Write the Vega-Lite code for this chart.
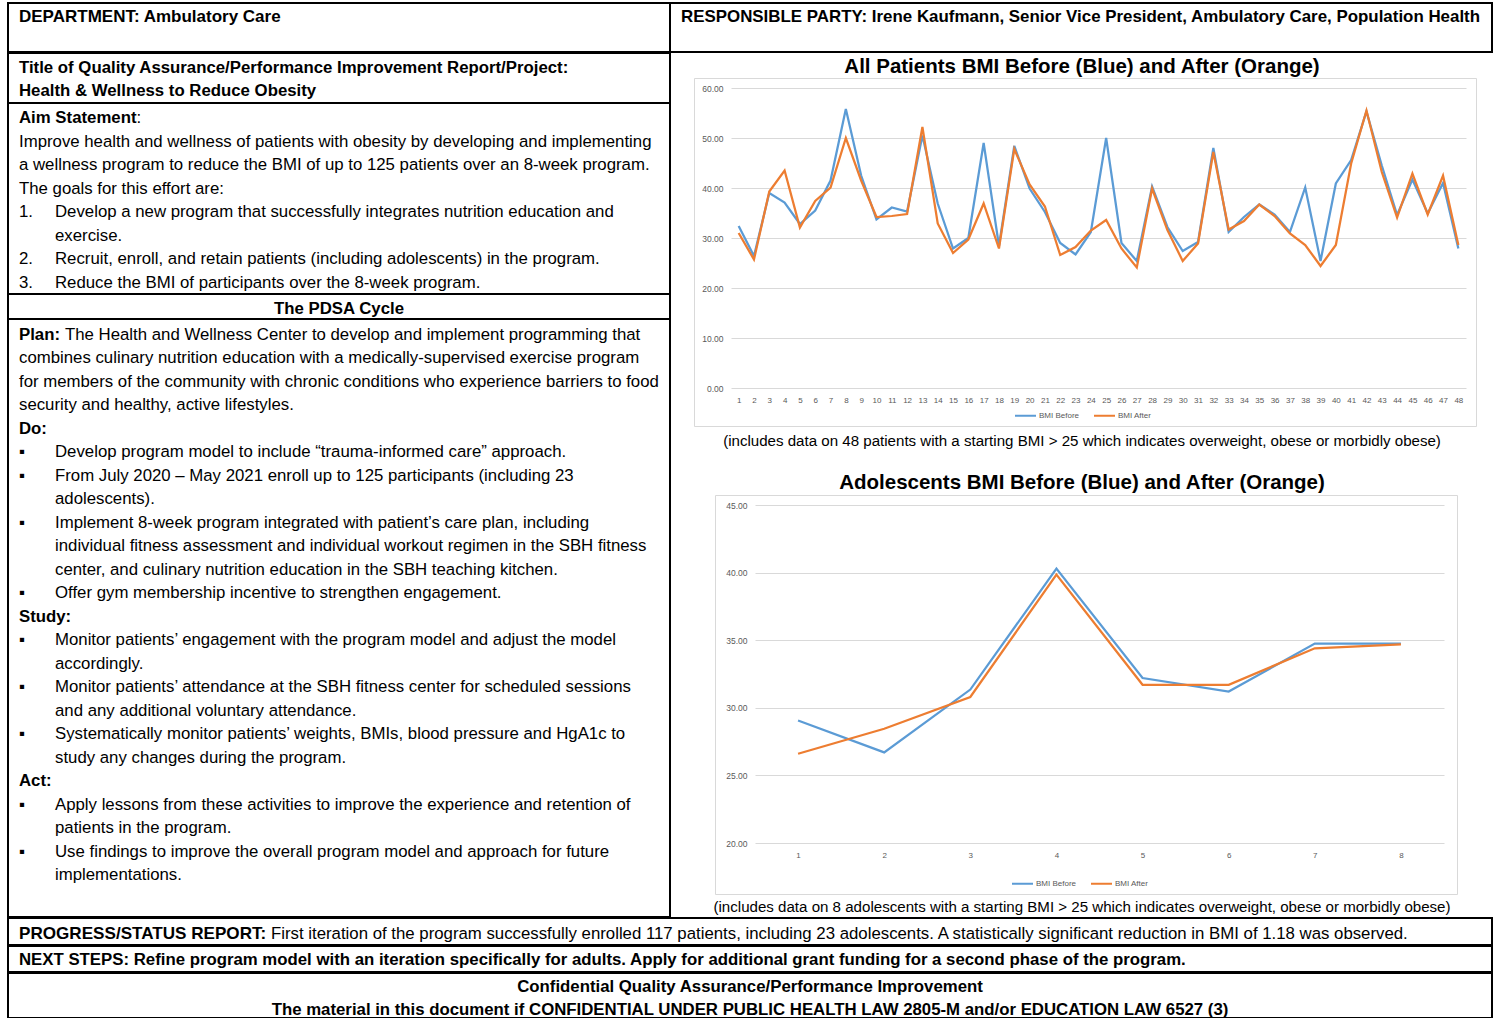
{
  "$schema": "https://vega.github.io/schema/vega-lite/v6.json",
  "padding": {"left": 7, "top": 2, "right": 0, "bottom": 0},
  "background": "white",
  "config": {
    "view": {"stroke": null},
    "text": {"font": "Liberation Sans", "fontSize": 16.8, "fill": "black"},
    "axis": {"labelFont": "Liberation Sans", "titleFont": "Liberation Sans"},
    "legend": {"labelFont": "Liberation Sans"},
    "title": {"font": "Liberation Sans"}
  },
  "datasets": {
    "doc": [
      {"cell": "dept", "line": 0, "indent": 0, "bold": true, "text": "DEPARTMENT: Ambulatory Care"},
      {"cell": "resp", "line": 0, "indent": 0, "bold": true, "text": "RESPONSIBLE PARTY:  Irene Kaufmann, Senior Vice President, Ambulatory Care, Population Health"},
      {"cell": "title", "line": 0, "indent": 0, "bold": true, "text": "Title of Quality Assurance/Performance Improvement Report/Project:"},
      {"cell": "title", "line": 1, "indent": 0, "bold": true, "text": "Health & Wellness to Reduce Obesity"},
      {"cell": "aim", "line": 0, "indent": 0, "bold": true, "text": "Aim Statement"},
      {"cell": "aim", "line": 0, "indent": 2, "bold": false, "text": ":"},
      {"cell": "aim", "line": 1, "indent": 0, "bold": false, "text": "Improve health and wellness of patients with obesity by developing and implementing"},
      {"cell": "aim", "line": 2, "indent": 0, "bold": false, "text": "a wellness program to reduce the BMI of up to 125 patients over an 8-week program."},
      {"cell": "aim", "line": 3, "indent": 0, "bold": false, "text": "The goals for this effort are:"},
      {"cell": "aim", "line": 4, "indent": 1, "bold": false, "marker": "1.", "text": "Develop a new program that successfully integrates nutrition education and"},
      {"cell": "aim", "line": 5, "indent": 1, "bold": false, "text": "exercise."},
      {"cell": "aim", "line": 6, "indent": 1, "bold": false, "marker": "2.", "text": "Recruit, enroll, and retain patients (including adolescents) in the program."},
      {"cell": "aim", "line": 7, "indent": 1, "bold": false, "marker": "3.", "text": "Reduce the BMI of participants over the 8-week program."},
      {"cell": "pdsa", "line": 0, "indent": 0, "bold": true, "text": "The PDSA Cycle"},
      {"cell": "plan", "line": 0, "indent": 0, "bold": true, "text": "Plan:"},
      {"cell": "plan", "line": 0, "indent": 2, "bold": false, "text": "The Health and Wellness Center to develop and implement programming that"},
      {"cell": "plan", "line": 1, "indent": 0, "bold": false, "text": "combines culinary nutrition education with a medically-supervised exercise program"},
      {"cell": "plan", "line": 2, "indent": 0, "bold": false, "text": "for members of the community with chronic conditions who experience barriers to food"},
      {"cell": "plan", "line": 3, "indent": 0, "bold": false, "text": "security and healthy, active lifestyles."},
      {"cell": "plan", "line": 4, "indent": 0, "bold": true, "text": "Do:"},
      {"cell": "plan", "line": 5, "indent": 1, "bold": false, "marker": "▪", "text": "Develop program model to include “trauma-informed care” approach."},
      {"cell": "plan", "line": 6, "indent": 1, "bold": false, "marker": "▪", "text": "From July 2020 – May 2021 enroll up to 125 participants (including 23"},
      {"cell": "plan", "line": 7, "indent": 1, "bold": false, "text": "adolescents)."},
      {"cell": "plan", "line": 8, "indent": 1, "bold": false, "marker": "▪", "text": "Implement 8-week program integrated with patient’s care plan, including"},
      {"cell": "plan", "line": 9, "indent": 1, "bold": false, "text": "individual fitness assessment and individual workout regimen in the SBH fitness"},
      {"cell": "plan", "line": 10, "indent": 1, "bold": false, "text": "center, and culinary nutrition education in the SBH teaching kitchen."},
      {"cell": "plan", "line": 11, "indent": 1, "bold": false, "marker": "▪", "text": "Offer gym membership incentive to strengthen engagement."},
      {"cell": "plan", "line": 12, "indent": 0, "bold": true, "text": "Study:"},
      {"cell": "plan", "line": 13, "indent": 1, "bold": false, "marker": "▪", "text": "Monitor patients’ engagement with the program model and adjust the model"},
      {"cell": "plan", "line": 14, "indent": 1, "bold": false, "text": "accordingly."},
      {"cell": "plan", "line": 15, "indent": 1, "bold": false, "marker": "▪", "text": "Monitor patients’ attendance at the SBH fitness center for scheduled sessions"},
      {"cell": "plan", "line": 16, "indent": 1, "bold": false, "text": "and any additional voluntary attendance."},
      {"cell": "plan", "line": 17, "indent": 1, "bold": false, "marker": "▪", "text": "Systematically monitor patients’ weights, BMIs, blood pressure and HgA1c to"},
      {"cell": "plan", "line": 18, "indent": 1, "bold": false, "text": "study any changes during the program."},
      {"cell": "plan", "line": 19, "indent": 0, "bold": true, "text": "Act:"},
      {"cell": "plan", "line": 20, "indent": 1, "bold": false, "marker": "▪", "text": "Apply lessons from these activities to improve the experience and retention of"},
      {"cell": "plan", "line": 21, "indent": 1, "bold": false, "text": "patients in the program."},
      {"cell": "plan", "line": 22, "indent": 1, "bold": false, "marker": "▪", "text": "Use findings to improve the overall program model and approach for future"},
      {"cell": "plan", "line": 23, "indent": 1, "bold": false, "text": "implementations."},
      {"cell": "ttl1", "line": 0, "indent": 0, "bold": true, "text": "All Patients BMI Before (Blue) and After (Orange)"},
      {"cell": "mid", "line": 0, "indent": 0, "bold": false, "text": "(includes data on 48 patients with a starting BMI > 25 which indicates overweight, obese or morbidly obese)"},
      {"cell": "mid", "line": 1, "indent": 0, "bold": true, "text": "Adolescents BMI Before (Blue) and After (Orange)"},
      {"cell": "cap2", "line": 0, "indent": 0, "bold": false, "text": "(includes data on 8 adolescents with a starting BMI > 25 which indicates overweight, obese or morbidly obese)"},
      {"cell": "prog", "line": 0, "indent": 0, "bold": true, "text": "PROGRESS/STATUS REPORT:"},
      {"cell": "prog", "line": 0, "indent": 1, "bold": false, "text": "First iteration of the program successfully enrolled 117 patients, including 23 adolescents. A statistically significant reduction in BMI of 1.18 was observed."},
      {"cell": "next", "line": 0, "indent": 0, "bold": true, "text": "NEXT STEPS: Refine program model with an iteration specifically for adults. Apply for additional grant funding for a second phase of the program."},
      {"cell": "conf", "line": 0, "indent": 0, "bold": true, "text": "Confidential Quality Assurance/Performance Improvement"},
      {"cell": "conf", "line": 1, "indent": 0, "bold": true, "text": "The material in this document if CONFIDENTIAL UNDER PUBLIC HEALTH LAW 2805-M and/or EDUCATION LAW 6527 (3)"}
    ],
    "all": [
      {"p": 1, "BMI Before": 32.4, "BMI After": 31.0},
      {"p": 2, "BMI Before": 26.4, "BMI After": 25.7},
      {"p": 3, "BMI Before": 39.0, "BMI After": 39.3},
      {"p": 4, "BMI Before": 37.1, "BMI After": 43.5},
      {"p": 5, "BMI Before": 32.8, "BMI After": 32.1},
      {"p": 6, "BMI Before": 35.5, "BMI After": 37.4},
      {"p": 7, "BMI Before": 41.5, "BMI After": 40.1},
      {"p": 8, "BMI Before": 55.8, "BMI After": 50.0},
      {"p": 9, "BMI Before": 42.5, "BMI After": 41.5},
      {"p": 10, "BMI Before": 33.7, "BMI After": 34.2},
      {"p": 11, "BMI Before": 36.1, "BMI After": 34.4},
      {"p": 12, "BMI Before": 35.3, "BMI After": 34.8},
      {"p": 13, "BMI Before": 50.5, "BMI After": 52.2},
      {"p": 14, "BMI Before": 36.9, "BMI After": 32.9},
      {"p": 15, "BMI Before": 27.9, "BMI After": 27.0},
      {"p": 16, "BMI Before": 30.0, "BMI After": 29.7},
      {"p": 17, "BMI Before": 49.0, "BMI After": 36.9},
      {"p": 18, "BMI Before": 28.4, "BMI After": 27.9},
      {"p": 19, "BMI Before": 48.4, "BMI After": 47.8},
      {"p": 20, "BMI Before": 39.9, "BMI After": 40.7},
      {"p": 21, "BMI Before": 35.2, "BMI After": 36.3},
      {"p": 22, "BMI Before": 29.0, "BMI After": 26.6},
      {"p": 23, "BMI Before": 26.7, "BMI After": 28.2},
      {"p": 24, "BMI Before": 31.2, "BMI After": 31.5},
      {"p": 25, "BMI Before": 50.0, "BMI After": 33.6},
      {"p": 26, "BMI Before": 29.0, "BMI After": 27.9},
      {"p": 27, "BMI Before": 25.4, "BMI After": 24.1},
      {"p": 28, "BMI Before": 40.3, "BMI After": 39.9},
      {"p": 29, "BMI Before": 32.2, "BMI After": 31.6},
      {"p": 30, "BMI Before": 27.4, "BMI After": 25.4},
      {"p": 31, "BMI Before": 29.2, "BMI After": 28.9},
      {"p": 32, "BMI Before": 48.0, "BMI After": 47.2},
      {"p": 33, "BMI Before": 31.2, "BMI After": 31.7},
      {"p": 34, "BMI Before": 34.2, "BMI After": 33.4},
      {"p": 35, "BMI Before": 36.7, "BMI After": 36.7},
      {"p": 36, "BMI Before": 34.7, "BMI After": 34.4},
      {"p": 37, "BMI Before": 31.2, "BMI After": 30.9},
      {"p": 38, "BMI Before": 40.1, "BMI After": 28.6},
      {"p": 39, "BMI Before": 25.4, "BMI After": 24.4},
      {"p": 40, "BMI Before": 40.9, "BMI After": 28.6},
      {"p": 41, "BMI Before": 45.6, "BMI After": 44.9},
      {"p": 42, "BMI Before": 55.3, "BMI After": 55.5},
      {"p": 43, "BMI Before": 44.5, "BMI After": 43.2},
      {"p": 44, "BMI Before": 34.6, "BMI After": 34.1},
      {"p": 45, "BMI Before": 41.7, "BMI After": 42.9},
      {"p": 46, "BMI Before": 34.9, "BMI After": 34.7},
      {"p": 47, "BMI Before": 41.0, "BMI After": 42.5},
      {"p": 48, "BMI Before": 27.9, "BMI After": 28.6}
    ],
    "teen": [
      {"p": 1, "BMI Before": 29.06, "BMI After": 26.6},
      {"p": 2, "BMI Before": 26.7, "BMI After": 28.45},
      {"p": 3, "BMI Before": 31.35, "BMI After": 30.8},
      {"p": 4, "BMI Before": 40.3, "BMI After": 39.85},
      {"p": 5, "BMI Before": 32.2, "BMI After": 31.7},
      {"p": 6, "BMI Before": 31.2, "BMI After": 31.7},
      {"p": 7, "BMI Before": 34.75, "BMI After": 34.4},
      {"p": 8, "BMI Before": 34.75, "BMI After": 34.7}
    ]
  },
  "spacing": -3,
  "bounds": "full",
  "resolve": {"scale": {"color": "independent"}, "legend": {"color": "independent"}},
  "vconcat": [
    {
      "spacing": 0,
      "bounds": "flush",
      "hconcat": [
        {
          "width": 662, "height": 49,
          "view": {"stroke": "black", "strokeWidth": 2},
          "data": {"name": "doc"},
          "transform": [{"filter": "datum.cell === 'dept'"}],
          "mark": {"type": "text", "align": "left", "baseline": "middle", "fontWeight": "bold", "fontSize": 17},
          "encoding": {
            "x": {"field": "indent", "type": "quantitative", "scale": {"domain": [0, 1], "range": [11, 47]}, "axis": null},
            "y": {"field": "line", "type": "quantitative", "scale": {"domain": [0, 1], "range": [14, 37.5]}, "axis": null},
            "text": {"field": "text"}
          }
        },
        {
          "width": 822, "height": 49,
          "view": {"stroke": "black", "strokeWidth": 2},
          "data": {"name": "doc"},
          "transform": [{"filter": "datum.cell === 'resp'"}],
          "mark": {"type": "text", "align": "left", "baseline": "middle", "fontWeight": "bold", "fontSize": 16.9},
          "encoding": {
            "x": {"field": "indent", "type": "quantitative", "scale": {"domain": [0, 1], "range": [11, 47]}, "axis": null},
            "y": {"field": "line", "type": "quantitative", "scale": {"domain": [0, 1], "range": [14, 37.5]}, "axis": null},
            "text": {"field": "text"}
          }
        }
      ]
    },
    {
      "spacing": -1,
      "bounds": "full",
      "resolve": {"scale": {"color": "independent"}, "legend": {"color": "independent"}},
      "hconcat": [
        {
          "spacing": 0,
          "bounds": "flush",
          "vconcat": [
            {
              "width": 662, "height": 50,
              "view": {"stroke": "black", "strokeWidth": 2},
              "data": {"name": "doc"},
              "transform": [{"filter": "datum.cell === 'title'"}],
              "mark": {"type": "text", "align": "left", "baseline": "middle", "fontWeight": "bold"},
              "encoding": {
                "x": {"field": "indent", "type": "quantitative", "scale": {"domain": [0, 1], "range": [11, 47]}, "axis": null},
                "y": {"field": "line", "type": "quantitative", "scale": {"domain": [0, 1], "range": [15, 38]}, "axis": null},
                "text": {"field": "text"}
              }
            },
            {
              "width": 662, "height": 191,
              "view": {"stroke": "black", "strokeWidth": 2},
              "data": {"name": "doc"},
              "transform": [{"filter": "datum.cell === 'aim'"}],
              "encoding": {
                "x": {"field": "indent", "type": "quantitative", "scale": {"domain": [0, 1, 2], "range": [11, 47, 128.6]}, "axis": null},
                "y": {"field": "line", "type": "quantitative", "scale": {"domain": [0, 1], "range": [15, 38.57]}, "axis": null},
                "text": {"field": "text"}
              },
              "layer": [
                {"transform": [{"filter": "datum.bold"}], "mark": {"type": "text", "align": "left", "baseline": "middle", "fontWeight": "bold"}},
                {"transform": [{"filter": "!datum.bold"}], "mark": {"type": "text", "align": "left", "baseline": "middle"}},
                {"transform": [{"filter": "datum.marker"}], "mark": {"type": "text", "align": "left", "baseline": "middle"}, "encoding": {"x": {"datum": 0, "type": "quantitative"}, "text": {"field": "marker"}}}
              ]
            },
            {
              "width": 662, "height": 25,
              "view": {"stroke": "black", "strokeWidth": 2},
              "data": {"name": "doc"},
              "transform": [{"filter": "datum.cell === 'pdsa'"}],
              "mark": {"type": "text", "align": "center", "baseline": "middle", "fontWeight": "bold", "dy": 2},
              "encoding": {"text": {"field": "text"}}
            },
            {
              "width": 662, "height": 598,
              "view": {"stroke": "black", "strokeWidth": 2},
              "data": {"name": "doc"},
              "transform": [{"filter": "datum.cell === 'plan'"}],
              "encoding": {
                "x": {"field": "indent", "type": "quantitative", "scale": {"domain": [0, 1, 2], "range": [11, 47, 57]}, "axis": null},
                "y": {"field": "line", "type": "quantitative", "scale": {"domain": [0, 1], "range": [16, 39.48]}, "axis": null},
                "text": {"field": "text"}
              },
              "layer": [
                {"transform": [{"filter": "datum.bold"}], "mark": {"type": "text", "align": "left", "baseline": "middle", "fontWeight": "bold"}},
                {"transform": [{"filter": "!datum.bold"}], "mark": {"type": "text", "align": "left", "baseline": "middle"}},
                {"transform": [{"filter": "datum.marker"}], "mark": {"type": "text", "align": "left", "baseline": "middle"}, "encoding": {"x": {"datum": 0, "type": "quantitative"}, "text": {"field": "marker"}}}
              ]
            }
          ]
        },
        {
          "spacing": 0,
          "bounds": "full",
          "resolve": {"scale": {"color": "independent"}, "legend": {"color": "independent"}},
          "vconcat": [
            {
              "width": 822, "height": 24,
              "data": {"name": "doc"},
              "transform": [{"filter": "datum.cell === 'ttl1'"}],
              "mark": {"type": "text", "align": "center", "baseline": "middle", "fontWeight": "bold", "fontSize": 20.5, "clip": true},
              "encoding": {
                "y": {"field": "line", "type": "quantitative", "scale": {"domain": [0, 1], "range": [14, 37]}, "axis": null},
                "text": {"field": "text"}
              }
            },
            {
              "spacing": 0,
              "bounds": "flush",
              "resolve": {"scale": {"color": "independent"}, "legend": {"color": "independent"}},
              "hconcat": [
                {
                  "width": 23, "height": 348,
                  "data": {"values": [{}]},
                  "mark": "text",
                  "encoding": {"text": {"value": ""}}
                },
                {
                  "width": 782, "height": 348,
                  "view": {"stroke": "#d9d9d9", "strokeWidth": 1},
                  "data": {"name": "all"},
                  "transform": [{"fold": ["BMI Before", "BMI After"], "as": ["series", "bmi"]}],
                  "mark": {"type": "line", "strokeWidth": 2.25},
                  "encoding": {
                    "x": {"field": "p", "type": "ordinal", "scale": {"type": "point", "padding": 0.5, "range": [37, 772]},
                      "axis": {"title": null, "labelAngle": 0, "labelFontSize": 8, "labelColor": "#595959", "domain": false, "ticks": false, "grid": false, "offset": -38, "labelPadding": 8}},
                    "y": {"field": "bmi", "type": "quantitative", "scale": {"domain": [0, 60], "range": [310, 10]},
                      "axis": {"title": null, "values": [0, 10, 20, 30, 40, 50, 60], "format": ".2f", "domain": false, "ticks": false, "grid": true, "gridColor": "#d9d9d9", "gridWidth": 1, "offset": -37, "labelPadding": 8, "labelFontSize": 8.5, "labelColor": "#595959"}},
                    "color": {"field": "series", "type": "nominal", "scale": {"domain": ["BMI Before", "BMI After"], "range": ["#5B9BD5", "#ED7D31"]},
                      "legend": {"title": null, "orient": "none", "legendX": 320, "legendY": 326, "direction": "horizontal", "symbolType": "stroke", "symbolSize": 441, "symbolStrokeWidth": 2, "labelFontSize": 8, "labelColor": "#595959", "columnPadding": 10, "labelOffset": 2}}
                  }
                }
              ]
            },
            {
              "width": 822, "height": 66,
              "data": {"name": "doc"},
              "transform": [{"filter": "datum.cell === 'mid'"}],
              "encoding": {
                "y": {"field": "line", "type": "quantitative", "scale": {"domain": [0, 1], "range": [13.75, 56]}, "axis": null},
                "text": {"field": "text"}
              },
              "layer": [
                {"transform": [{"filter": "!datum.bold"}], "mark": {"type": "text", "align": "center", "baseline": "middle", "fontSize": 15.1}},
                {"transform": [{"filter": "datum.bold"}], "mark": {"type": "text", "align": "center", "baseline": "middle", "fontSize": 20.5, "fontWeight": "bold"}}
              ]
            },
            {
              "spacing": 0,
              "bounds": "flush",
              "resolve": {"scale": {"color": "independent"}, "legend": {"color": "independent"}},
              "hconcat": [
                {
                  "width": 44, "height": 399,
                  "data": {"values": [{}]},
                  "mark": "text",
                  "encoding": {"text": {"value": ""}}
                },
                {
                  "width": 742, "height": 399,
                  "view": {"stroke": "#d9d9d9", "strokeWidth": 1},
                  "data": {"name": "teen"},
                  "transform": [{"fold": ["BMI Before", "BMI After"], "as": ["series", "bmi"]}],
                  "mark": {"type": "line", "strokeWidth": 2.25},
                  "encoding": {
                    "x": {"field": "p", "type": "ordinal", "scale": {"type": "point", "padding": 0.5, "range": [40, 729]},
                      "axis": {"title": null, "labelAngle": 0, "labelFontSize": 8, "labelColor": "#595959", "domain": false, "ticks": false, "grid": false, "offset": -51, "labelPadding": 8}},
                    "y": {"field": "bmi", "type": "quantitative", "scale": {"domain": [20, 45], "range": [348, 10]},
                      "axis": {"title": null, "values": [20, 25, 30, 35, 40, 45], "format": ".2f", "domain": false, "ticks": false, "grid": true, "gridColor": "#d9d9d9", "gridWidth": 1, "offset": -40, "labelPadding": 8, "labelFontSize": 8.5, "labelColor": "#595959"}},
                    "color": {"field": "series", "type": "nominal", "scale": {"domain": ["BMI Before", "BMI After"], "range": ["#5B9BD5", "#ED7D31"]},
                      "legend": {"title": null, "orient": "none", "legendX": 296, "legendY": 377, "direction": "horizontal", "symbolType": "stroke", "symbolSize": 441, "symbolStrokeWidth": 2, "labelFontSize": 8, "labelColor": "#595959", "columnPadding": 10, "labelOffset": 2}}
                  }
                }
              ]
            },
            {
              "width": 822, "height": 20,
              "data": {"name": "doc"},
              "transform": [{"filter": "datum.cell === 'cap2'"}],
              "mark": {"type": "text", "align": "center", "baseline": "middle", "fontSize": 15.1},
              "encoding": {
                "y": {"field": "line", "type": "quantitative", "scale": {"domain": [0, 1], "range": [12, 35.5]}, "axis": null},
                "text": {"field": "text"}
              }
            }
          ]
        }
      ]
    },
    {
      "width": 1484, "height": 27,
      "view": {"stroke": "black", "strokeWidth": 2},
      "data": {"name": "doc"},
      "transform": [{"filter": "datum.cell === 'prog'"}],
      "encoding": {
        "x": {"field": "indent", "type": "quantitative", "scale": {"domain": [0, 1], "range": [11, 263]}, "axis": null},
        "y": {"field": "line", "type": "quantitative", "scale": {"domain": [0, 1], "range": [15.5, 39]}, "axis": null},
        "text": {"field": "text"}
      },
      "layer": [
        {"transform": [{"filter": "datum.bold"}], "mark": {"type": "text", "align": "left", "baseline": "middle", "fontWeight": "bold", "fontSize": 17.1}},
        {"transform": [{"filter": "!datum.bold"}], "mark": {"type": "text", "align": "left", "baseline": "middle"}}
      ]
    },
    {
      "width": 1484, "height": 26,
      "view": {"stroke": "black", "strokeWidth": 2},
      "data": {"name": "doc"},
      "transform": [{"filter": "datum.cell === 'next'"}],
      "mark": {"type": "text", "align": "left", "baseline": "middle", "fontWeight": "bold"},
      "encoding": {
        "x": {"field": "indent", "type": "quantitative", "scale": {"domain": [0, 1], "range": [11, 47]}, "axis": null},
        "y": {"field": "line", "type": "quantitative", "scale": {"domain": [0, 1], "range": [14, 37.5]}, "axis": null},
        "text": {"field": "text"}
      }
    },
    {
      "width": 1484, "height": 45,
      "view": {"stroke": "black", "strokeWidth": 2},
      "data": {"name": "doc"},
      "transform": [{"filter": "datum.cell === 'conf'"}],
      "mark": {"type": "text", "align": "center", "baseline": "middle", "fontWeight": "bold"},
      "encoding": {
        "y": {"field": "line", "type": "quantitative", "scale": {"domain": [0, 1], "range": [14, 37]}, "axis": null},
        "text": {"field": "text"}
      }
    }
  ]
}
